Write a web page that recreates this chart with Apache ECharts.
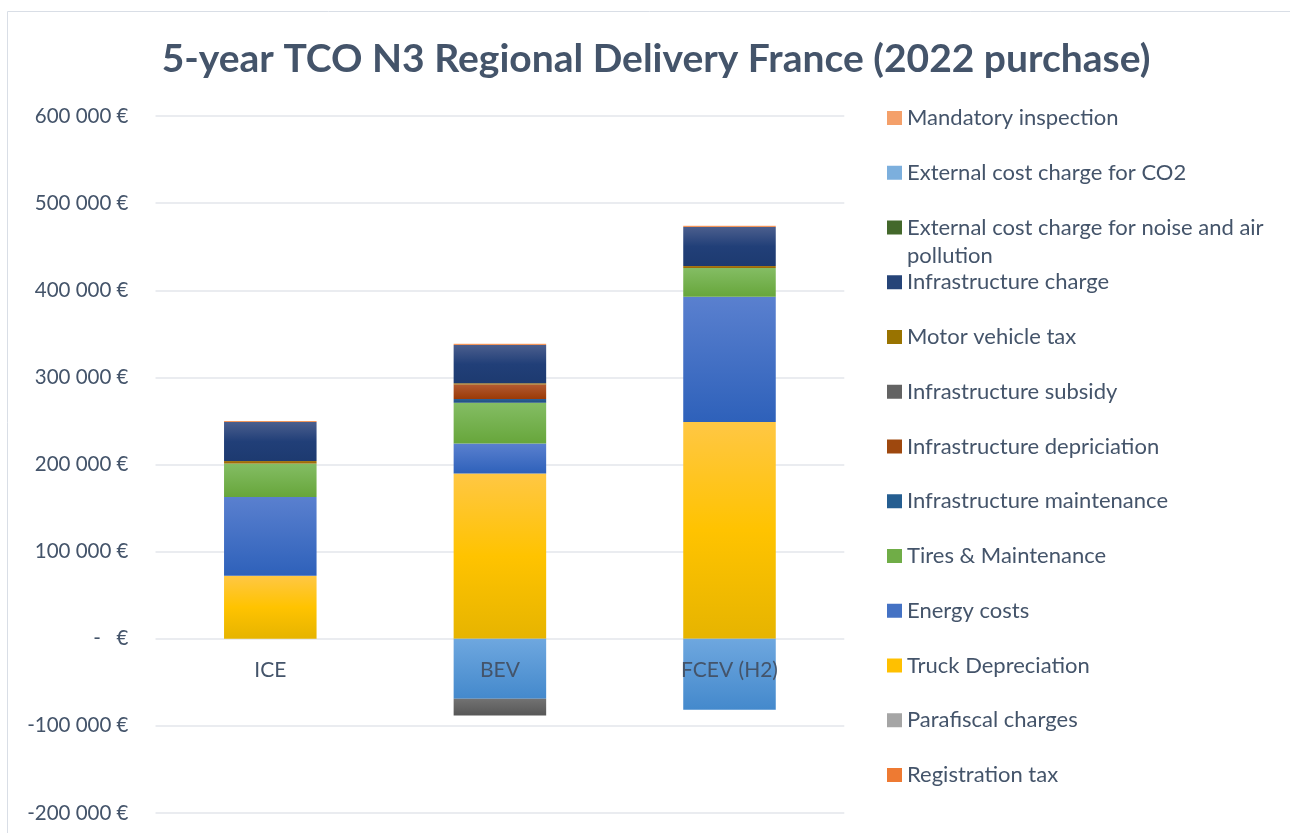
<!DOCTYPE html>
<html>
<head>
<meta charset="utf-8">
<script src="https://cdn.jsdelivr.net/npm/echarts@6/dist/echarts.min.js"></script>
<style>html,body{margin:0;padding:0;background:#fff;}#c{width:1290px;height:833px;}</style>
</head>
<body>
<div id="c"></div>
<script>
const categories = ['ICE', 'BEV', 'FCEV (H2)'];
const yTicks = [-200000, -100000, 0, 100000, 200000, 300000, 400000, 500000, 600000];

// series values (EUR), per category ICE, BEV, FCEV (H2)
const registrationTax       = [0, 0, 0];
const parafiscalCharges     = [0, 0, 0];
const truckDepreciation     = [72200, 189600, 248900];
const energyCosts           = [90600, 34400, 143700];
const tiresMaintenance      = [38400, 47000, 32900];
const infraMaintenance      = [0, 4200, 0];
const infraDepreciation     = [0, 16600, 0];
const externalCO2           = [0, -68800, -81400];
const infraSubsidy          = [0, -19200, 0];
const motorVehicleTax       = [2900, 1400, 2300];
const infraCharge           = [44700, 43900, 44700];
const externalNoiseAir      = [0, 0, 0];
const mandatoryInspection   = [1100, 1500, 1600];

const names = {
  reg: 'Registration tax', para: 'Parafiscal charges', truck: 'Truck Depreciation',
  energy: 'Energy costs', tires: 'Tires & Maintenance', imaint: 'Infrastructure maintenance',
  idep: 'Infrastructure depriciation', isub: 'Infrastructure subsidy', mvt: 'Motor vehicle tax',
  icharge: 'Infrastructure charge', noise: 'External cost charge for noise and air',
  co2: 'External cost charge for CO2', insp: 'Mandatory inspection'
};

function grad(top, bottom, mid) {
  const stops = mid ? [{offset:0,color:top},{offset:0.5,color:mid},{offset:1,color:bottom}]
                    : [{offset:0,color:top},{offset:1,color:bottom}];
  return new echarts.graphic.LinearGradient(0, 0, 0, 1, stops);
}

function s(name, data, color, legendColor) {
  return {
    name: name, type: 'bar', stack: 'tco', data: data, barWidth: '40.3%',
    itemStyle: { color: color },
    emphasis: { disabled: true },
    legendColor: legendColor
  };
}

const seriesList = [
  s(names.reg, registrationTax, grad('#F4924F', '#E8711F'), '#EE7A32'),
  s(names.para, parafiscalCharges, grad('#B0B0B0', '#939393'), '#A5A5A5'),
  s(names.truck, truckDepreciation, grad('#FFC744', '#E6B400', '#FFC300'), '#FFC000'),
  s(names.energy, energyCosts, grad('#5A80CF', '#2E61BA'), '#4472C4'),
  s(names.tires, tiresMaintenance, grad('#84BD64', '#67A63B'), '#70AD47'),
  s(names.imaint, infraMaintenance, grad('#2D6096', '#1F4E80'), '#255E91'),
  s(names.idep, infraDepreciation, grad('#B25A32', '#9C3A06'), '#9E480E'),
  s(names.co2, externalCO2, grad('#6EA7DF', '#4489CC'), '#7CAFDD'),
  s(names.isub, infraSubsidy, grad('#727272', '#575757'), '#636363'),
  s(names.mvt, motorVehicleTax, grad('#A77A1A', '#9A6400'), '#997300'),
  s(names.icharge, infraCharge, grad('#4B5E8D', '#1D3A70', '#213F78'), '#264478'),
  s(names.noise, externalNoiseAir, grad('#47732B', '#375F20'), '#43682B'),
  s(names.insp, mandatoryInspection, grad('#F6A36E', '#EE8A4A'), '#F4A06A')
];

const legendOrder = [names.insp, names.co2, names.noise, names.icharge, names.mvt, names.isub,
  names.idep, names.imaint, names.tires, names.energy, names.truck, names.para, names.reg];

const legendData = legendOrder.map(n => {
  const ser = seriesList.find(x => x.name === n);
  return { name: n, itemStyle: { color: ser.legendColor } };
});
seriesList.forEach(x => delete x.legendColor);

const gridTop = 116, gridBottomY = 813;
const yMin = -200000, yMax = 600000;
// pixel offset to move category axis from grid bottom up to the zero value
const zeroOffset = -(gridBottomY - (gridTop + (gridBottomY - gridTop) * (yMax - 0) / (yMax - yMin)));

const chart = echarts.init(document.getElementById('c'), null, { renderer: 'canvas' });
const txt = '#44546A';
chart.setOption({
  animation: false,
  backgroundColor: '#ffffff',
  title: {
    text: '5-year TCO N3 Regional Delivery France (2022 purchase)',
    left: 651, top: 35, textAlign: 'center',
    textStyle: { fontFamily: 'Lato', fontWeight: 'bold', fontSize: 39, color: txt }
  },
  graphic: [
    { type: 'rect', shape: { x: 7.5, y: 11.5, width: 1400, height: 900 }, style: { fill: 'none', stroke: '#D9DEE6', lineWidth: 1 }, silent: true, z: -10 },
    { type: 'text', left: 907, top: 245, style: { text: 'pollution', fontFamily: 'Lato', fontSize: 22, fill: txt } }
  ],
  grid: { left: 155.5, right: 1290 - 844.3, top: gridTop, bottom: 833 - gridBottomY, containLabel: false, outerBoundsMode: 'none' },
  legend: {
    orient: 'vertical', left: 887, top: 105, padding: 0,
    itemWidth: 15, itemHeight: 14, itemGap: 28.75,
    icon: 'rect',
    selectedMode: false,
    textStyle: { fontFamily: 'Lato', fontSize: 22, color: txt, lineHeight: 26 },
    data: legendData
  },
  xAxis: {
    type: 'category', data: categories, z: 10,
    offset: zeroOffset,
    axisLine: { show: false, onZero: false },
    axisTick: { show: false },
    axisLabel: { margin: 21, fontFamily: 'Lato', fontSize: 21, color: txt }
  },
  yAxis: {
    type: 'value', min: yMin, max: yMax, interval: 100000,
    axisLine: { show: false }, axisTick: { show: false },
    splitLine: { lineStyle: { color: '#E3E6EB', width: 1.5 } },
    axisLabel: {
      margin: 27, fontFamily: 'Lato', fontSize: 20.5, color: txt,
      formatter: v => {
        if (yTicks.indexOf(v) < 0) return '';
        if (v === 0) return '-   €';
        const sgn = v < 0 ? '-' : '';
        return sgn + Math.abs(v).toString().replace(/\B(?=(\d{3})+(?!\d))/g, ' ') + ' €';
      }
    }
  },
  series: seriesList
});
</script>
</body>
</html>
